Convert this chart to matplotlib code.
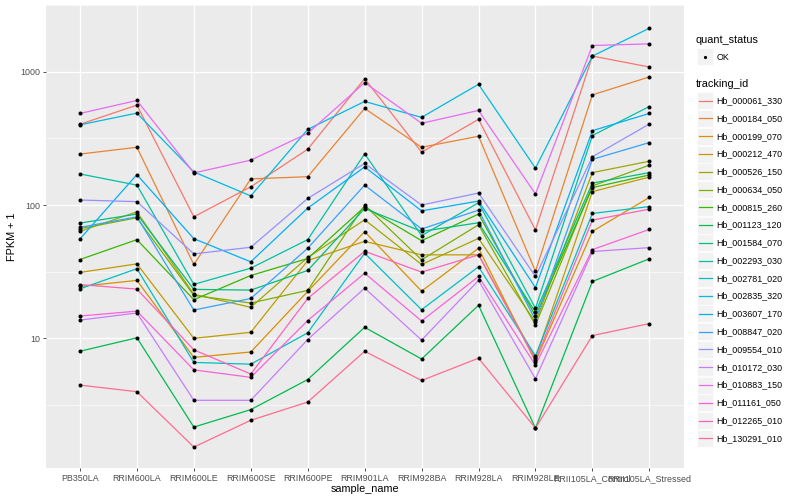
import numpy as np
import matplotlib.pyplot as plt
from matplotlib.lines import Line2D
from matplotlib.patches import Rectangle
from matplotlib.ticker import NullFormatter

plt.rcParams['font.family'] = ['Liberation Sans', 'DejaVu Sans']

# x categories
samples = ["PB350LA", "RRIM600LA", "RRIM600LE", "RRIM600SE", "RRIM600PE", "RRIM901LA",
           "RRIM928BA", "RRIM928LA", "RRIM928LE", "RRII105LA_Control", "RRII105LA_Stressed"]

# FPKM + 1 per gene
hb_000061_330 = [403, 561, 81.6, 137, 262, 887, 249, 439, 64.9, 1309, 1084]
hb_000184_050 = [241, 271, 35.8, 157, 163, 530, 271, 328, 31.8, 670, 913]
hb_000199_070 = [24.5, 27.2, 7.2, 7.9, 22.5, 63.1, 22.6, 47.4, 6.7, 63.4, 114]
hb_000212_470 = [31.2, 36.2, 10.0, 11.1, 38.3, 53.4, 42.3, 42.3, 7.1, 126, 162]
hb_000526_150 = [63.4, 88.9, 21.4, 17.1, 40.4, 77.5, 35.8, 56.2, 13.2, 175, 213]
hb_000634_050 = [66.4, 80.2, 21.0, 18.4, 22.9, 99.7, 38.8, 71.1, 12.6, 139, 199]
hb_000815_260 = [39.0, 55.0, 19.5, 29.6, 39.7, 96.9, 54.0, 85.5, 14.7, 135, 168]
hb_001123_120 = [8.0, 10.1, 2.16, 2.92, 4.91, 12.1, 7.0, 17.7, 2.12, 26.7, 39.5]
hb_001584_070 = [73.2, 85.5, 23.3, 23.0, 32.3, 94.1, 63.4, 73.6, 15.7, 146, 175]
hb_002293_030 = [171, 141, 25.4, 33.6, 55.0, 242, 58.9, 104, 16.8, 332, 548]
hb_002781_020 = [23.5, 33.3, 6.6, 6.4, 11.0, 43.5, 16.4, 34.4, 7.4, 86.4, 97.4]
hb_002835_320 = [399, 489, 177, 117, 369, 598, 454, 804, 189, 1309, 2117]
hb_003607_170 = [55.7, 169, 55.9, 37.5, 94.7, 193, 90.4, 107, 24.0, 361, 486]
hb_008847_020 = [67.9, 81.6, 16.3, 19.9, 47.4, 141, 66.1, 91.5, 13.7, 220, 294]
hb_009554_010 = [109, 106, 43.0, 48.2, 112, 205, 100, 123, 29.1, 230, 405]
hb_010172_030 = [13.7, 15.5, 3.43, 3.43, 9.8, 23.8, 9.7, 27.2, 4.97, 44.8, 47.9]
hb_010883_150 = [486, 608, 174, 217, 345, 828, 410, 512, 121, 1571, 1617]
hb_011161_050 = [14.7, 16.0, 5.8, 5.1, 13.6, 30.8, 13.5, 29.1, 6.3, 46.3, 65.6]
hb_012265_010 = [25.3, 23.4, 8.2, 5.4, 19.9, 45.0, 31.4, 42.3, 6.9, 77.1, 93.1]
hb_130291_010 = [4.46, 3.98, 1.53, 2.43, 3.33, 8.0, 4.83, 7.1, 2.12, 10.5, 12.9]

tracking_ids = ["Hb_000061_330", "Hb_000184_050", "Hb_000199_070", "Hb_000212_470",
                "Hb_000526_150", "Hb_000634_050", "Hb_000815_260", "Hb_001123_120",
                "Hb_001584_070", "Hb_002293_030", "Hb_002781_020", "Hb_002835_320",
                "Hb_003607_170", "Hb_008847_020", "Hb_009554_010", "Hb_010172_030",
                "Hb_010883_150", "Hb_011161_050", "Hb_012265_010", "Hb_130291_010"]
series = [hb_000061_330, hb_000184_050, hb_000199_070, hb_000212_470, hb_000526_150,
          hb_000634_050, hb_000815_260, hb_001123_120, hb_001584_070, hb_002293_030,
          hb_002781_020, hb_002835_320, hb_003607_170, hb_008847_020, hb_009554_010,
          hb_010172_030, hb_010883_150, hb_011161_050, hb_012265_010, hb_130291_010]

# ggplot default hue palette for 20 levels
colors = ["#F8766D", "#EA8331", "#D89000", "#C09B00", "#A3A500", "#7CAE00", "#39B600",
          "#00BB4E", "#00BF7D", "#00C1A3", "#00BFC4", "#00BAE0", "#00B0F6", "#35A2FF",
          "#9590FF", "#C77CFF", "#E76BF3", "#FA62DB", "#FF62BC", "#FF6C91"]

W, H = 800, 500
fig = plt.figure(figsize=(8, 5), dpi=100)
ax = fig.add_axes([45.8 / W, 1 - 468 / H, (683.5 - 45.8) / W, (468 - 5) / H])
ax.set_facecolor('#EBEBEB')

x = np.arange(len(samples))
for vals, c in zip(series, colors):
    ax.plot(x, vals, color=c, lw=0.9, zorder=3)
for vals in series:
    ax.plot(x, vals, 'o', color='black', ms=2.9, mec='none', zorder=4)

ax.set_yscale('log')
allv = np.log10(np.concatenate([np.array(s, dtype=float) for s in series]))
lo, hi = allv.min(), allv.max()
pad = 0.05 * (hi - lo)
ax.set_ylim(10 ** (lo - pad), 10 ** (hi + pad))
ax.set_xlim(-0.6, len(samples) - 0.4)

ax.set_yticks([10, 100, 1000])
ax.set_yticklabels(['10', '100', '1000'])
ax.set_yticks([10 ** 0.5, 10 ** 1.5, 10 ** 2.5, 10 ** 3.5], minor=True)
ax.yaxis.set_minor_formatter(NullFormatter())
ax.set_xticks(x)
ax.set_xticklabels(samples)

ax.grid(True, which='major', color='white', lw=0.9, zorder=0)
ax.grid(True, which='minor', axis='y', color='white', lw=0.45, zorder=0)
ax.set_axisbelow(True)
for s in ax.spines.values():
    s.set_visible(False)
ax.tick_params(which='major', length=2.2, width=0.6, color='#333333',
               labelcolor='#4D4D4D', labelsize=6.4, pad=2)
ax.tick_params(which='minor', length=0)

ax.set_xlabel('sample_name', fontsize=7.8, labelpad=1)
ax.set_ylabel('FPKM + 1', fontsize=7.8, labelpad=2)


# legend drawn by hand in pixel coordinates
def fx(px):
    return px / W


def fy(py):
    return 1 - py / H


fig.text(fx(696), fy(40), 'quant_status', fontsize=7.8, va='center', ha='left')
fig.add_artist(Rectangle((fx(697), fy(65)), 16 / W, 17 / H, transform=fig.transFigure,
                         facecolor='#F2F2F2', edgecolor='white', lw=0.5))
fig.add_artist(Line2D([fx(705)], [fy(56.7)], marker='o', ms=2.3, color='black',
                      mec='none', transform=fig.transFigure))
fig.text(fx(716.5), fy(57), 'OK', fontsize=6.4, va='center', ha='left')

fig.text(fx(696), fy(84), 'tracking_id', fontsize=7.8, va='center', ha='left')
for i, (name, c) in enumerate(zip(tracking_ids, colors)):
    yc = 100.7 + i * 17.77
    fig.add_artist(Rectangle((fx(697), fy(yc + 8.5)), 16 / W, 17 / H,
                             transform=fig.transFigure, facecolor='#F2F2F2',
                             edgecolor='white', lw=0.5))
    fig.add_artist(Line2D([fx(698.5), fx(711.5)], [fy(yc), fy(yc)], color=c, lw=0.9,
                          transform=fig.transFigure))
    fig.text(fx(716.5), fy(yc), name, fontsize=6.4, va='center', ha='left')

fig.savefig('out.png', dpi=100)
